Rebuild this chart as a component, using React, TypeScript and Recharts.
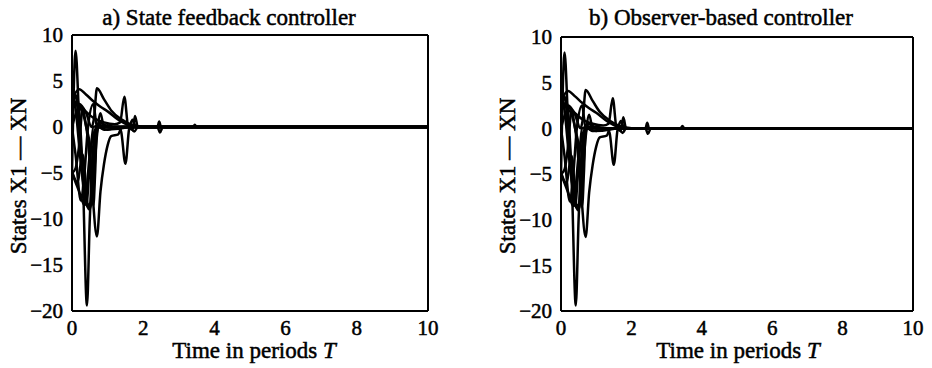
import { LineChart, Line, XAxis, YAxis } from "recharts";

const xTicks = [0, 2, 4, 6, 8, 10];
const yTicks = [-20, -15, -10, -5, 0, 5, 10];

const titleA = "a) State feedback controller";
const titleB = "b) Observer-based controller";

// state trajectories, time in periods T
const t1 = [0, 0.1, 0.2, 0.3, 0.4, 0.5, 0.6, 0.8, 1.0, 10];
const x1 = [-5, 8.3, 1, -5, -8.5, -4, 0, 0.2, 0, 0];

const t2 = [0, 0.2, 0.4, 0.6, 0.8, 1.0, 1.3, 1.6, 2.0, 10];
const x2 = [3, 4.1, 3.5, 2.8, 2.2, 1.7, 0.8, 0.2, 0, 0];

const t3 = [0, 0.2, 0.4, 0.55, 0.62, 0.7, 0.9, 1.1, 1.4, 1.7, 2.0, 10];
const x3 = [2, 2.5, 1.5, 0, 1, 4.2, 3, 1.8, 0.8, 0.2, 0, 0];

const t4 = [0, 0.15, 0.3, 0.42, 0.5, 0.6, 0.7, 0.8, 10];
const x4 = [3.5, 3, -5, -19.4, -10, -2, 0, 0, 0];

const t5 = [0, 0.2, 0.4, 0.55, 0.7, 0.8, 0.9, 1.0, 1.1, 1.3, 1.4, 10];
const x5 = [0, 2, 0, -6, -11.9, -7, -4, -2, -1, -0.8, 0, 0];

const t6 = [0, 0.3, 0.6, 0.9, 1.2, 1.35, 1.47, 1.58, 1.7, 1.77, 1.85, 2.4, 2.45, 2.5, 10];
const x6 = [3, 2, 1, 0.5, 0.3, 0.5, 3.3, 0, -0.3, 1.2, 0, 0, 0.6, 0, 0];

const t7 = [0, 0.2, 0.35, 0.5, 0.7, 1.0, 1.3, 1.38, 1.5, 1.62, 1.75, 1.85, 2.4, 2.47, 2.55, 3.4, 3.45, 3.5, 10];
const x7 = [-5, -7, -8.5, -3, 0, -0.3, 0, -0.5, -4, 0, -0.5, 0, 0, -0.6, 0, 0, 0.25, 0, 0];

const t8 = [0, 0.1, 0.25, 0.5, 0.6, 0.7, 0.8, 0.9, 10];
const x8 = [4, 2, -4, -8.8, -6, -1, 1.5, 0, 0];

const t9 = [0, 0.1, 0.2, 0.3, 0.4, 0.5, 0.6, 0.65, 0.7, 0.8, 1.0, 10];
const x9 = [-5, -4.5, -2, 2, 0, -2, -8.5, -5, 0, 0.5, 0, 0];

const t10 = [0, 0.1, 0.25, 0.35, 0.45, 0.6, 0.7, 1.0, 1.2, 10];
const x10 = [0, -3, -8, -5, 0, 2.5, 0, 0.2, 0, 0];

const t11 = [0, 0.15, 0.3, 0.45, 0.55, 0.65, 0.8, 1.0, 10];
const x11 = [-4.8, -6, -3, -8.5, -8, -2, 0.5, 0, 0];

const t12 = [0, 0.1, 0.2, 0.35, 0.5, 0.6, 0.75, 0.9, 1.6, 1.7, 1.8, 10];
const x12 = [2.5, 3.5, 0, -7.5, -9, -4, 0, -0.3, 0, 0.8, 0, 0];

const times = [t1, t2, t3, t4, t5, t6, t7, t8, t9, t10, t11, t12];
const states = [x1, x2, x3, x4, x5, x6, x7, x8, x9, x10, x11, x12];

const series = states.map((v, i) => times[i].map((t, j) => ({ t, v: v[j] })));

const font = "'Liberation Serif', 'Times New Roman', serif";
const fmt = (v: number) => String(v).replace("-", "\u2212");

function Panel({ left, margin }: { left: number; margin: { top: number; right: number; bottom: number; left: number } }) {
  const tickStyle = { fill: "#000", fontSize: 21, fontFamily: font, stroke: "#000", strokeWidth: 0.5 };
  return (
    <div style={{ position: "absolute", left, top: 0 }}>
      <LineChart width={466} height={368} margin={margin}>
        <XAxis xAxisId="x" dataKey="t" type="number" domain={[0, 10]} ticks={xTicks} allowDataOverflow
          height={1} tickSize={0} tickMargin={9} tickLine={false} tick={tickStyle}
          axisLine={{ stroke: "#000", strokeWidth: 2 }} />
        <XAxis xAxisId="xm" type="number" domain={[0, 10]} ticks={xTicks} mirror height={1}
          tick={false} tickSize={4} tickLine={{ stroke: "#000" }} axisLine={false} />
        <XAxis xAxisId="xt" orientation="top" type="number" domain={[0, 10]} ticks={xTicks} mirror height={1}
          tick={false} tickSize={4} tickLine={{ stroke: "#000" }} axisLine={{ stroke: "#000", strokeWidth: 2 }} />
        <YAxis yAxisId="y" type="number" domain={[-20, 10]} ticks={yTicks} allowDataOverflow
          width={1} tickSize={0} tickMargin={9} tickLine={false} tick={tickStyle} tickFormatter={fmt}
          axisLine={{ stroke: "#000", strokeWidth: 2 }} />
        <YAxis yAxisId="ym" type="number" domain={[-20, 10]} ticks={yTicks} mirror width={1}
          tick={false} tickSize={4} tickLine={{ stroke: "#000" }} axisLine={false} />
        <YAxis yAxisId="yr" orientation="right" type="number" domain={[-20, 10]} ticks={yTicks} mirror width={1}
          tick={false} tickSize={4} tickLine={{ stroke: "#000" }} axisLine={{ stroke: "#000", strokeWidth: 2 }} />
        {series.map((d, i) => (
          <Line key={i} data={d} dataKey="v" xAxisId="x" yAxisId="y" type="monotone"
            stroke="#000" strokeWidth={2.5} dot={false} isAnimationActive={false} />
        ))}
      </LineChart>
    </div>
  );
}

function Txt({ x, y, children, rotate = false }: { x: number; y: number; children: any; rotate?: boolean }) {
  return (
    <div style={{
      position: "absolute", left: x, top: y, whiteSpace: "nowrap", fontFamily: font, fontSize: 23,
      lineHeight: 1, color: "#000", WebkitTextStroke: "0.5px #000",
      transform: `translate(-50%, -50%)${rotate ? " rotate(-90deg)" : ""}`,
    }}>{children}</div>
  );
}

export default function App() {
  return (
    <div style={{ position: "absolute", left: 0, top: 0, width: 932, height: 368, background: "#fff" }}>
      <Panel left={0} margin={{ top: 35, right: 38, bottom: 56, left: 71 }} />
      <Panel left={466} margin={{ top: 37, right: 19, bottom: 56, left: 94 }} />
      <Txt x={229} y={17}>{titleA}</Txt>
      <Txt x={721} y={17}>{titleB}</Txt>
      <Txt x={254} y={350}>Time in periods <i>T</i></Txt>
      <Txt x={738} y={350}>Time in periods <i>T</i></Txt>
      <Txt x={18} y={176} rotate>States X1 — XN</Txt>
      <Txt x={507} y={176} rotate>States X1 — XN</Txt>
    </div>
  );
}
